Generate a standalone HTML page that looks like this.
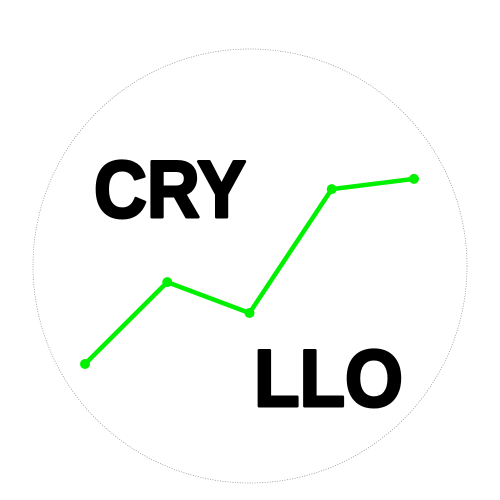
<!DOCTYPE html>
<html><head><meta charset="utf-8"><style>html,body{margin:0;padding:0;background:#fff}svg{display:block}</style></head>
<body>
<svg width="500" height="500" viewBox="0 0 500 500">
<circle cx="250" cy="266" r="217" fill="#fff" stroke="#888" stroke-width="0.7" stroke-dasharray="1 1.5"/>
<text x="94" y="217" font-family="Liberation Sans, sans-serif" font-weight="bold" font-size="81" textLength="152" lengthAdjust="spacingAndGlyphs" fill="#000" stroke="#000" stroke-width="3" stroke-linejoin="round">CRY</text>
<text x="254" y="406" font-family="Liberation Sans, sans-serif" font-weight="bold" font-size="81" textLength="149" lengthAdjust="spacingAndGlyphs" fill="#000" stroke="#000" stroke-width="3" stroke-linejoin="round">LLO</text>
<g id="series"></g>
</svg>
<script>
const categories = [1, 2, 3, 4, 5];
const values = [1.2, 3.93, 2.9, 7.03, 7.37];
function xScale(c){ return 85 + (c - 1) * 82.25; }
function yScale(v){ return 400 - v * 30; }
const g = document.getElementById('series');
const ns = 'http://www.w3.org/2000/svg';
const line = document.createElementNS(ns, 'polyline');
line.setAttribute('points', categories.map((c,i)=>xScale(c)+','+yScale(values[i])).join(' '));
line.setAttribute('fill', 'none');
line.setAttribute('stroke', '#00f000');
line.setAttribute('stroke-width', '4.5');
line.setAttribute('stroke-linejoin', 'round');


g.appendChild(line);
categories.forEach((c,i)=>{
  const p = document.createElementNS(ns, 'circle');
  p.setAttribute('cx', xScale(c));
  p.setAttribute('cy', yScale(values[i]));
  p.setAttribute('r', '5');
  p.setAttribute('fill', '#00f000');
  
  
  g.appendChild(p);
});
</script>
</body></html>
